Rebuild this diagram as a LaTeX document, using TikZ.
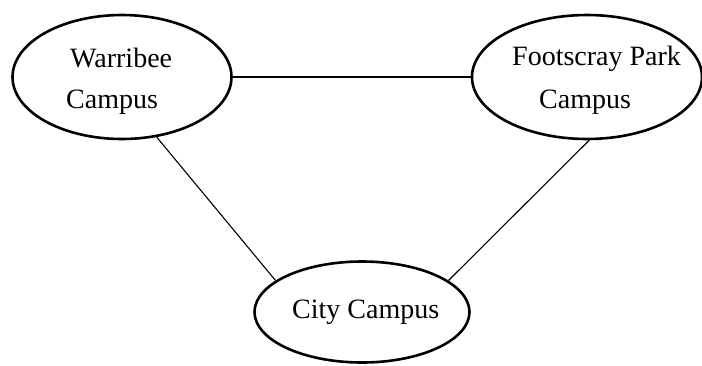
\documentclass[tikz,border=0pt]{standalone}
\usepackage{fontspec}
\setmainfont{Liberation Serif}
\usetikzlibrary{shapes.geometric}
\begin{document}
\begin{tikzpicture}[x=1pt,y=-1pt,
  campus/.style={draw=black, line width=2.6pt, ellipse, inner sep=0pt},
  label/.style={inner sep=0pt, anchor=base west, font=\fontsize{28}{41}\selectfont},
  link/.style={draw=black, line width=1.1pt}]
  \useasboundingbox (0,0) rectangle (702,365);
  \fill[white] (0,0) rectangle (702,365);
  % campus ellipses
  \node[campus, minimum width=219pt, minimum height=124pt] (w) at (122,77) {};
  \node[campus, minimum width=230pt, minimum height=124pt] (f) at (587,77) {};
  \node[campus, minimum width=215pt, minimum height=101pt] (c) at (362,312) {};
  % campus names
  \node[label] (w1) at (70,67) {Warribee};
  \node[label] (w2) at (66,108) {Campus};
  \node[label] (f1) at (512,65) {Footscray Park};
  \node[label] (f2) at (539,108) {Campus};
  \node[label] (c1) at (292,318) {City Campus};
  % links between campuses
  \path[link] (w.east) -- (f.west);
  \path[link] (w.-60) -- (c.160);
  \path[link] (f.-88) -- (c.20);
\end{tikzpicture}
\end{document}
